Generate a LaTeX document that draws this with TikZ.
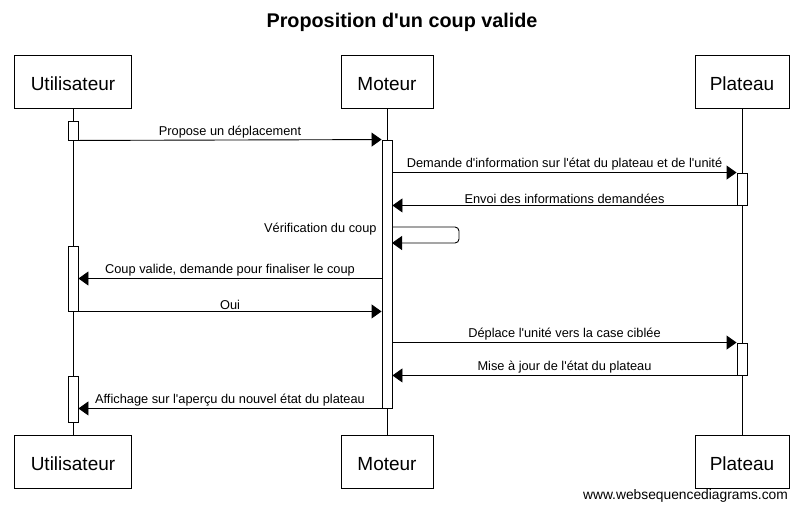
\documentclass[tikz,border=0pt]{standalone}
\usepackage{fontspec}
\setmainfont{Liberation Sans}[Ligatures=TeXOff]
\usepackage{tikz}
\usetikzlibrary{arrows.meta}

\begin{document}
\begin{tikzpicture}[x=1pt,y=-1pt,
  >={Triangle[length=10pt,width=14pt]},line width=0.9pt,
  actor/.style={draw,rectangle,minimum height=53pt,inner sep=0pt,text height=17pt,text depth=0pt,font=\fontsize{19}{22}\selectfont},
  act/.style={draw,rectangle,fill=white,minimum width=10pt,inner sep=0pt},
  msg/.style={midway,above=0.5pt,inner sep=1pt,font=\fontsize{12.8}{15}\selectfont}]
      \useasboundingbox (0,0) rectangle (804,512);

      \node[font=\bfseries\fontsize{19.8}{23}\selectfont] (title) at (402,22) {Proposition d'un coup valide};

      % participants
      \node[actor,minimum width=117pt] (ut) at (73,81.5) {Utilisateur};
      \node[actor,minimum width=92pt] (mt) at (387,81.5) {Moteur};
      \node[actor,minimum width=94pt] (pt) at (742,81.5) {Plateau};
      \node[actor,minimum width=117pt] (ub) at (73,461.5) {Utilisateur};
      \node[actor,minimum width=92pt] (mb) at (387,461.5) {Moteur};
      \node[actor,minimum width=94pt] (pb) at (742,461.5) {Plateau};

      \draw (ut.south) -- (ub.north);
      \draw (mt.south) -- (mb.north);
      \draw (pt.south) -- (pb.north);

      % activations
      \node[act,minimum height=19pt] (ua1) at (73,130.5) {};
      \node[act,minimum height=65pt] (ua2) at (73,278.5) {};
      \node[act,minimum height=46pt] (ua3) at (73,399) {};
      \node[act,minimum height=268pt] (ma) at (387,274) {};
      \node[act,minimum height=32pt] (pa1) at (742,189) {};
      \node[act,minimum height=32pt] (pa2) at (742,359) {};

      \coordinate (v1) at (392,227);
      \coordinate (v2) at (392,243);

      % messages
      \draw[->] (ua1.south east) -- node[msg]{Propose un déplacement} (ma.north west);
      \draw[->] (ma.east |- pa1.north) -- node[msg]{Demande d'information sur l'état du plateau et de l'unité} (pa1.north west);
      \draw[->] (pa1.south west) -- node[msg]{Envoi des informations demandées} (ma.east |- pa1.south);
      \draw[->,rounded corners=4pt] (v1) -- ++(67,0) -- ++(0,16) -- (v2);
      \node[anchor=base east,inner sep=0pt,font=\fontsize{12.8}{15}\selectfont] (vlab) at (377,232) {Vérification du coup};
      \draw[->] (ma.west |- ua2.east) -- node[msg]{Coup valide, demande pour finaliser le coup} (ua2.east);
      \draw[->] (ua2.south east) -- node[msg]{Oui} (ma.west |- ua2.south);
      \draw[->] (ma.east |- pa2.north) -- node[msg]{Déplace l'unité vers la case ciblée} (pa2.north west);
      \draw[->] (pa2.south west) -- node[msg]{Mise à jour de l'état du plateau} (ma.east |- pa2.south);
      \draw[->] (ma.south west) -- node[msg]{Affichage sur l'aperçu du nouvel état du plateau} (ua3.east |- ma.south);

      \node[font=\fontsize{13.8}{16}\selectfont] (wsd) at (685.5,496) {www.websequencediagrams.com};
\end{tikzpicture}
\end{document}
